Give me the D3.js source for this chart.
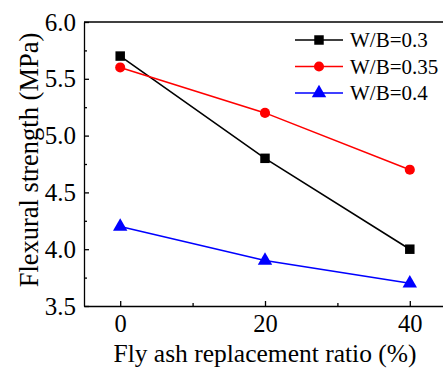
<!DOCTYPE html>
<html>
<head>
<meta charset="utf-8">
<script src="https://cdn.jsdelivr.net/npm/d3@7"></script>
<style>
  body { margin: 0; background: #fff; }
  svg { display: block; }
</style>
</head>
<body>
<div id="container"></div>
<script>
(function(){

    // ---------------------------------------------------------------- data
    const ratios = [0, 20, 40];
    const seriesNames = ["W/B=0.3", "W/B=0.35", "W/B=0.4"];
    const wb030 = [5.7, 4.8, 4.0];
    const wb035 = [5.6, 5.2, 4.7];
    const wb040 = [4.2, 3.9, 3.7];
    const seriesColors = ["#000000", "#ff0000", "#0000ff"];
    const seriesSymbols = [d3.symbolSquare, d3.symbolCircle, d3.symbolTriangle];
    const yTicks = [3.5, 4.0, 4.5, 5.0, 5.5, 6.0];
    const xTicks = [0, 20, 40];

    const width = 443, height = 369;
    const margin = {top: 22, right: -3, bottom: 63, left: 84};
    const serif = "Liberation Serif";

    const x = d3.scaleLinear([-5, 45], [margin.left, width - margin.right]);
    const y = d3.scaleLinear([3.5, 6.0], [height - margin.bottom, margin.top]);

    const svg = d3.select("#container").append("svg")
        .attr("width", width)
        .attr("height", height);

    // ---------------------------------------------------------------- axes
    const xAxis = svg.append("g")
        .attr("transform", `translate(0,${y(3.5)})`)
        .call(d3.axisBottom(x).tickValues(xTicks).tickSize(-5).tickSizeOuter(0).tickPadding(9));
    xAxis.attr("font-family", serif).attr("font-size", 24.5);
    xAxis.selectAll("text").attr("fill", "#000").attr("dy", "0.71em");

    svg.append("g")
        .attr("transform", `translate(0,${y(3.5)})`)
        .call(d3.axisBottom(x).tickValues([10, 30]).tickSize(-3).tickFormat(""))
        .call(g => g.select(".domain").remove());

    const yAxis = svg.append("g")
        .attr("transform", `translate(${x(-5)},0)`)
        .call(d3.axisLeft(y).tickValues(yTicks).tickSize(-5).tickSizeOuter(0)
            .tickFormat(d3.format(".1f")).tickPadding(8));
    yAxis.attr("font-family", serif).attr("font-size", 25);
    yAxis.selectAll("text").attr("fill", "#000");

    svg.append("g")
        .attr("transform", `translate(${x(-5)},0)`)
        .call(d3.axisLeft(y).tickValues([3.75, 4.25, 4.75, 5.25, 5.75]).tickSize(-3).tickFormat(""))
        .call(g => g.select(".domain").remove());

    svg.selectAll(".domain, .tick line").attr("stroke", "#000").attr("stroke-width", 1.3);

    // top frame line (right side is cut off)
    svg.append("line")
        .attr("x1", x(-5)).attr("x2", width)
        .attr("y1", y(6.0)).attr("y2", y(6.0))
        .attr("stroke", "#000").attr("stroke-width", 1.3);

    // ---------------------------------------------------------------- titles
    svg.append("text")
        .attr("x", 265)
        .attr("y", 362)
        .attr("text-anchor", "middle")
        .attr("font-family", serif)
        .attr("font-size", 25.5)
        .text("Fly ash replacement ratio (%)");

    svg.append("text")
        .attr("transform", "translate(38,160) rotate(-90)")
        .attr("text-anchor", "middle")
        .attr("font-family", serif)
        .attr("font-size", 26.5)
        .text("Flexural strength (MPa)");

    // ---------------------------------------------------------------- series
    const allSeries = [wb030, wb035, wb040];
    const line = d3.line().x((d, i) => x(ratios[i])).y(d => y(d));
    const symbolSizes = [90, 80, 90];

    allSeries.forEach((vals, s) => {
        svg.append("path")
            .attr("d", line(vals))
            .attr("fill", "none")
            .attr("stroke", seriesColors[s])
            .attr("stroke-width", 1.6);
        svg.append("g").selectAll("path")
            .data(vals)
            .join("path")
            .attr("transform", (d, i) => `translate(${x(ratios[i])},${y(d)})`)
            .attr("d", d3.symbol(seriesSymbols[s], symbolSizes[s]))
            .attr("fill", seriesColors[s]);
    });

    // ---------------------------------------------------------------- legend
    const legend = svg.append("g");
    seriesNames.forEach((name, s) => {
        const ly = 40 + s * 26.5;
        const row = legend.append("g").attr("transform", `translate(295,${ly})`);
        row.append("line")
            .attr("x1", 0).attr("x2", 48)
            .attr("stroke", seriesColors[s]).attr("stroke-width", 1.6);
        row.append("path")
            .attr("transform", "translate(24,0)")
            .attr("d", d3.symbol(seriesSymbols[s], symbolSizes[s]))
            .attr("fill", seriesColors[s]);
        row.append("text")
            .attr("x", 55)
            .attr("dy", "0.35em")
            .attr("font-family", serif)
            .attr("font-size", 21)
            .text(name);
    });

})();
</script>
</body>
</html>
